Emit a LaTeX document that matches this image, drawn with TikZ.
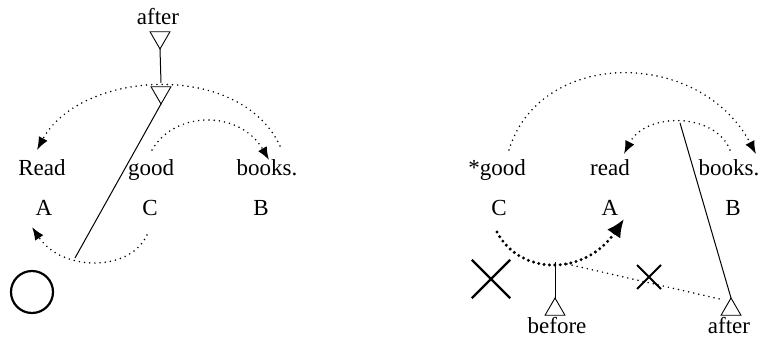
\documentclass[tikz,border=0pt]{standalone}
\usepackage{fontspec}
\setmainfont{Liberation Serif}
\usetikzlibrary{arrows.meta,shapes.geometric,shapes.misc}
\tikzset{
  word/.style={anchor=base,inner sep=0pt,font=\fontsize{23}{26}\selectfont},
  tri/.style={draw,regular polygon,regular polygon sides=3,minimum size=23pt,inner sep=0pt,outer sep=0pt,line width=0.9pt},
  dtri/.style={tri,shape border rotate=180},
  mv/.style={line width=1.7pt,dash pattern=on 0pt off 5.2pt,line cap=round},
  mvar/.style={mv,-{Latex[length=13pt,width=10pt]}},
  bigmv/.style={line width=3.3pt,dash pattern=on 0pt off 5.4pt,line cap=round,-{Latex[length=18pt,width=16pt]}},
  ln/.style={line width=1pt},
  nope/.style={draw,cross out,line width=2.4pt,inner sep=0pt},
}
\begin{document}
\begin{tikzpicture}[x=1pt,y=-1pt]
  \useasboundingbox (0,0) rectangle (762,337);
  % left: Read good books.
  \node[word] (aft1) at (158,25) {after};
  \node[dtri,anchor=corner 1] (t1) at (160,49) {};
  \node[dtri,anchor=corner 1] (t2) at (161,104) {};
  \draw[ln] (t1.corner 1) -- ([yshift=4pt]t2.north);
  \node[word] (rd1) at (42,175) {Read};
  \node[word] (gd1) at (151,175) {good};
  \node[word] (bk1) at (267,175) {books.};
  \node[word] (a1) at (44,215) {A};
  \node[word] (c1) at (150,215) {C};
  \node[word] (b1) at (261,215) {B};
  \coordinate (low1) at (75,258);
  \draw[ln] (t2.corner 1) -- (low1);
  \coordinate (s1) at (280,146);
  \coordinate (e1) at (37,150);
  \draw[mvar] (s1) .. controls (240,60) and (80,70) .. (e1);
  \coordinate (s2) at (152,150);
  \coordinate (e2) at (269,160);
  \draw[mvar] (s2) .. controls (175,110) and (240,110) .. (e2);
  \coordinate (s3) at (147,235);
  \coordinate (e3) at (32,227);
  \draw[mvar] (s3) .. controls (130,272) and (62,272) .. (e3);
  \node[draw,circle,minimum size=42pt,inner sep=0pt,line width=2.2pt] (zero) at (32,292) {};
  % right: *good read books.
  \node[word] (gd2) at (497,175) {*good};
  \node[word] (rd2) at (610,175) {read};
  \node[word] (bk2) at (729,175) {books.};
  \node[word] (c2) at (499,215) {C};
  \node[word] (a2) at (610,215) {A};
  \node[word] (b2) at (733,215) {B};
  \coordinate (s4) at (509,150);
  \coordinate (e4) at (756,154);
  \draw[mvar] (s4) .. controls (540,48) and (700,48) .. (e4);
  \coordinate (top5) at (680,123);
  \coordinate (s5) at (730,150);
  \coordinate (e5) at (624,154);
  \draw[mvar] (s5) .. controls (715,112) and (645,112) .. (e5);
  \node[tri,anchor=corner 1] (t3) at (731,298) {};
  \node[word] (aft2) at (729,333) {after};
  \draw[ln] (top5) -- (t3.corner 1);
  \coordinate (mid) at (555,262);
  \coordinate (s6) at (497,232);
  \coordinate (e6) at (624,219);
  \draw[bigmv] (s6) .. controls (520,276) and (585,276) .. (e6);
  \node[tri,anchor=corner 1] (t4) at (555,298) {};
  \node[word] (bef) at (557,333) {before};
  \draw[ln] (mid) -- (t4.corner 1);
  \draw[mv] ([xshift=12pt,yshift=-2pt]mid) -- ([xshift=-7pt,yshift=-2pt]t3.corner 1);
  \node[nope,minimum size=36pt] (x1) at (491,279) {};
  \node[nope,minimum size=22pt,line width=2pt] (x2) at (649,277) {};
\end{tikzpicture}
\end{document}
